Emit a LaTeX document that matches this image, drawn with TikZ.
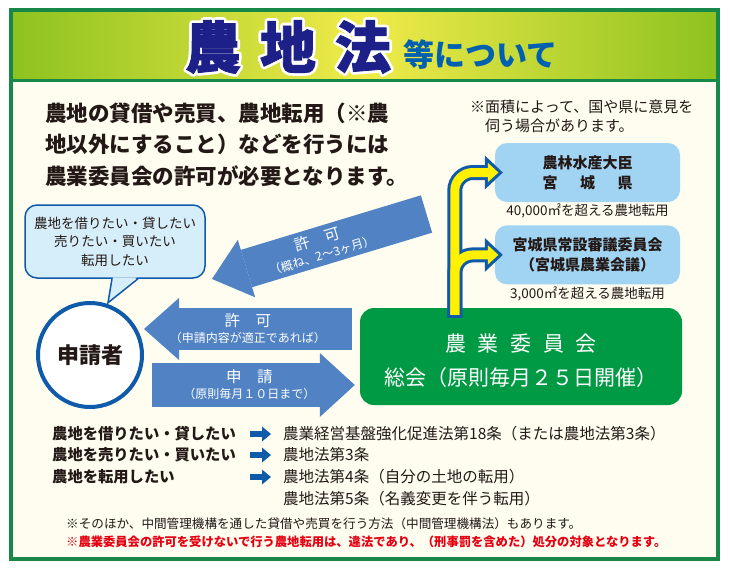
\documentclass[tikz,border=0pt]{standalone}
\usepackage{fontspec}
\setmainfont{Noto Sans CJK JP}
\newfontfamily\titlefont{Noto Sans CJK JP}[BoldFeatures={FakeBold=1.5}]
\newfontfamily\haloface{Noto Sans CJK JP}
\usetikzlibrary{arrows.meta, positioning}

\definecolor{framegreen}{RGB}{24,136,72}
\definecolor{hdrgreen}{RGB}{141,194,31}
\definecolor{hdryellow}{RGB}{240,235,74}
\definecolor{cream}{RGB}{254,253,240}
\definecolor{navy}{RGB}{29,32,136}
\definecolor{subblue}{RGB}{0,96,176}
\definecolor{ink}{RGB}{35,24,21}
\definecolor{arrowblue}{RGB}{80,130,196}
\definecolor{lineblue}{RGB}{16,90,170}
\definecolor{skyblue}{RGB}{160,212,242}
\definecolor{bubblefill}{RGB}{214,237,250}
\definecolor{boardgreen}{RGB}{0,153,68}
\definecolor{signyellow}{RGB}{255,241,0}
\definecolor{alertred}{RGB}{230,0,18}

\newcommand{\outlinetext}[1]{\special{pdf:literal direct 1 j 1 J 6.4 w 2 Tr}#1\special{pdf:literal direct 0 Tr}}

\begin{document}
\begin{tikzpicture}[x=1pt, y=-1pt,
  frame/.style={draw=framegreen, line width=3.5pt},
  titlechar/.style={font=\titlefont\fontsize{56}{60}\selectfont\bfseries, inner sep=0pt},
  lead/.style={anchor=north west, align=left, inner sep=0pt, text=ink, font=\fontsize{21.5}{31.5}\selectfont\bfseries},
  memo/.style={anchor=north west, align=left, inner sep=0pt, text=ink, font=\fontsize{15}{19}\selectfont},
  office/.style={fill=skyblue, rounded corners=12pt, minimum width=185pt, minimum height=59pt, align=center, text=ink, font=\fontsize{15}{20}\selectfont\bfseries},
  areanote/.style={inner sep=0pt, text=ink, font=\fontsize{13.5}{15}\selectfont},
  board/.style={fill=boardgreen, rounded corners=14pt, minimum width=322pt, minimum height=97pt, align=center, text=white, font=\fontsize{21}{34}\selectfont},
  wish/.style={draw=lineblue, line width=1.5pt, fill=bubblefill, rounded corners=12pt, minimum width=180pt, minimum height=73pt, align=center, text=ink, font=\fontsize{13.5}{18.5}\selectfont},
  person/.style={circle, draw=lineblue, line width=4pt, fill=white, minimum size=104pt, text=ink, font=\fontsize{22}{22}\selectfont\bfseries},
  bigarr/.style={draw=arrowblue, -{Triangle[length=35pt, width=62pt, line width=0pt]}},
  arrtext/.style={align=center, inner sep=0pt, text=white, font=\fontsize{15.5}{16}\selectfont},
  forkout/.style={draw=lineblue, line width=15pt, rounded corners=18pt, -{Triangle[length=18pt, width=34pt, line width=0pt]}},
  forkin/.style={draw=signyellow, line width=9pt, rounded corners=18pt, shorten <=3pt, shorten >=4.4pt, -{Triangle[length=10.6pt, width=19.4pt, line width=0pt]}},
  rowlabel/.style={anchor=west, inner sep=0pt, text=ink, font=\fontsize{15.3}{17}\selectfont\bfseries},
  rowlaw/.style={anchor=west, inner sep=0pt, text=ink, font=\fontsize{15.5}{17}\selectfont},
  rowarr/.style={draw=lineblue, line width=6pt, -{Triangle[length=9pt, width=15pt, line width=0pt]}},
  footnote/.style={anchor=west, inner sep=0pt, text=ink, font=\fontsize{12.6}{14}\selectfont}
]
\useasboundingbox (0,0) rectangle (730,568);
\fill[white] (0,0) rectangle (730,568);
\shade[left color=hdrgreen, right color=hdrgreen, middle color=hdryellow] (11,10) rectangle (718,80);
\fill[cream] (11,80) rectangle (718,559);
\draw[frame, line width=3pt] (11,80) -- (718,80);
\draw[frame] (11,10) rectangle (718,559);

% title, white rim first
\node[titlechar, font=\haloface\fontsize{56}{60}\selectfont\bfseries, text=white] (halo) at (288,47) {\outlinetext{農\hspace{19pt}地\hspace{19pt}法}};
\node[titlechar, text=navy] (title) at (288,47) {農\hspace{19pt}地\hspace{19pt}法};
\node[anchor=base west, inner sep=0pt, text=subblue, font=\fontsize{31}{31}\selectfont\bfseries] (subtitle) at (403,66) {等について};

\node[lead] (lead) at (45,102.5) {農地の貸借や売買、農地転用（※農\\地以外にすること）などを行うには\\農業委員会の許可が必要となります。};
\node[memo] (memo) at (470,99.5) {※面積によって、国や県に意見を\\\hspace{1em}伺う場合があります。};

\node[office] (mfr) at (587.5,172.5) {農林水産大臣\\宮\hspace{1.5em}城\hspace{1.5em}県};
\node[areanote, below=1.5pt of mfr] (area1) {40,000㎡を超える農地転用};
\node[office, below=23pt of mfr] (council) {宮城県常設審議委員会\\（宮城県農業会議）};
\node[areanote, below=1.5pt of council] (area2) {3,000㎡を超える農地転用};
\node[board] (board) at (521,356.5) {\rule{0pt}{25pt}農\hspace{0.55em}業\hspace{0.55em}委\hspace{0.55em}員\hspace{0.55em}会\\総会（原則毎月２５日開催）};

\coordinate (fork) at ([xshift=95pt, yshift=-10pt]board.north west);
\draw[forkout] (fork) |- ([xshift=8pt]mfr.west);
\draw[forkout] (fork) |- ([xshift=8pt]council.west);
\draw[forkin] (fork) |- ([xshift=8pt]mfr.west);
\draw[forkin] (fork) |- ([xshift=8pt]council.west);

\node[wish] (wish) at (115,241.5) {農地を借りたい・貸したい\\売りたい・買いたい\\転用したい};
\fill[bubblefill] ([xshift=-2pt, yshift=1.5pt]wish.south) -- ([xshift=-7pt, yshift=-24pt]wish.south) -- ([xshift=22pt, yshift=1.5pt]wish.south) -- cycle;
\draw[draw=lineblue, line width=1.5pt] ([xshift=-3pt]wish.south) -- ([xshift=-7pt, yshift=-24pt]wish.south) -- ([xshift=23pt]wish.south);
\node[person] (applicant) at (90,355) {申請者};

\coordinate (later tail) at (426.5,214);
\coordinate (later tip) at (212,279);
\draw[bigarr, line width=39pt, -{Triangle[length=36pt, width=60pt, line width=0pt]}] (later tail) -- node[arrtext, sloped] {許\hspace{1em}可\\{\fontsize{12}{14}\selectfont （概ね、2〜3ヶ月）}} (later tip);

\coordinate (reply end) at ([xshift=-8pt, yshift=27.5pt]board.west);
\draw[bigarr, line width=42pt] (reply end) -- node[arrtext] {許\hspace{1em}可\\{\fontsize{12}{14}\selectfont （申請内容が適正であれば）}} (applicant.east |- reply end);
\coordinate (apply end) at ([xshift=-5pt, yshift=-28.5pt]board.west);
\draw[bigarr, line width=44pt, shorten <=8pt, -{Triangle[length=35pt, width=64pt, line width=0pt]}] (applicant.east |- apply end) -- node[arrtext] {申\hspace{1em}請\\{\fontsize{12}{14}\selectfont （原則毎月１０日まで）}} (apply end);

\node[rowlabel] (want1) at (52,434) {農地を借りたい・貸したい};
\node[rowlabel] (want2) at (52,455) {農地を売りたい・買いたい};
\node[rowlabel] (want3) at (52,477) {農地を転用したい};
\node[rowlaw] (law1) at (283,434) {農業経営基盤強化促進法第18条（または農地法第3条）};
\node[rowlaw] (law2) at (283,455) {農地法第3条};
\node[rowlaw] (law3) at (283,477) {農地法第4条（自分の土地の転用）};
\node[rowlaw] (law4) at (283,499) {農地法第5条（名義変更を伴う転用）};
\foreach \n in {1,2,3}
  \draw[rowarr] ([xshift=-33pt]law\n.west) -- ([xshift=-12pt]law\n.west);

\node[footnote] (aside) at (66,524) {※そのほか、中間管理機構を通した貸借や売買を行う方法（中間管理機構法）もあります。};
\node[footnote, text=alertred, font=\fontsize{12.3}{14}\selectfont\bfseries] (warning) at (66,542) {※農業委員会の許可を受けないで行う農地転用は、違法であり、（刑事罰を含めた）処分の対象となります。};
\end{tikzpicture}
\end{document}
